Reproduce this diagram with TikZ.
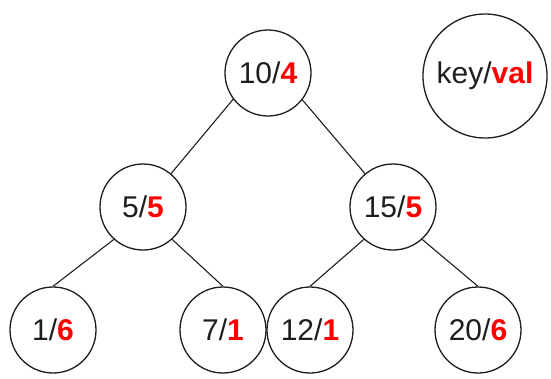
\documentclass[tikz,border=0pt]{standalone}
\usepackage{fontspec}
\setmainfont{Liberation Sans}
\definecolor{valred}{RGB}{255,0,0}
\definecolor{inkc}{RGB}{30,30,30}
\newcommand\kvlabel[2]{#1/\textcolor{valred}{\textbf{#2}}}
\begin{document}
\begin{tikzpicture}[x=1pt,y=-1pt,
  tnode/.style={circle,draw=inkc,line width=1.3pt,minimum size=86pt,inner sep=0pt,text=inkc,font=\fontsize{30}{30}\selectfont},
  bignode/.style={tnode,minimum size=124pt},
  edge/.style={draw=inkc,line width=1.1pt}]
\useasboundingbox[fill=white] (0,0) rectangle (551,378);
\node[tnode] (root) at (268,73) {\kvlabel{10}{4}};
\node[bignode] (key) at (485,76) {\kvlabel{key}{val}};
\node[tnode] (n5) at (143,207) {\kvlabel{5}{5}};
\node[tnode] (n15) at (393,207) {\kvlabel{15}{5}};
\node[tnode] (n1) at (53,330) {\kvlabel{1}{6}};
\node[tnode] (n7) at (223,330) {\kvlabel{7}{1}};
\node[tnode] (n12) at (310,330) {\kvlabel{12}{1}};
\node[tnode] (n20) at (478,330) {\kvlabel{20}{6}};
\draw[edge] (root.217) -- (n5.50);
\draw[edge] (root.322) -- (n15.130);
\draw[edge] (n5.228) -- (n1.north);
\draw[edge] (n5.312) -- (n7.north);
\draw[edge] (n15.228) -- (n12.north);
\draw[edge] (n15.312) -- (n20.north);
\end{tikzpicture}
\end{document}
